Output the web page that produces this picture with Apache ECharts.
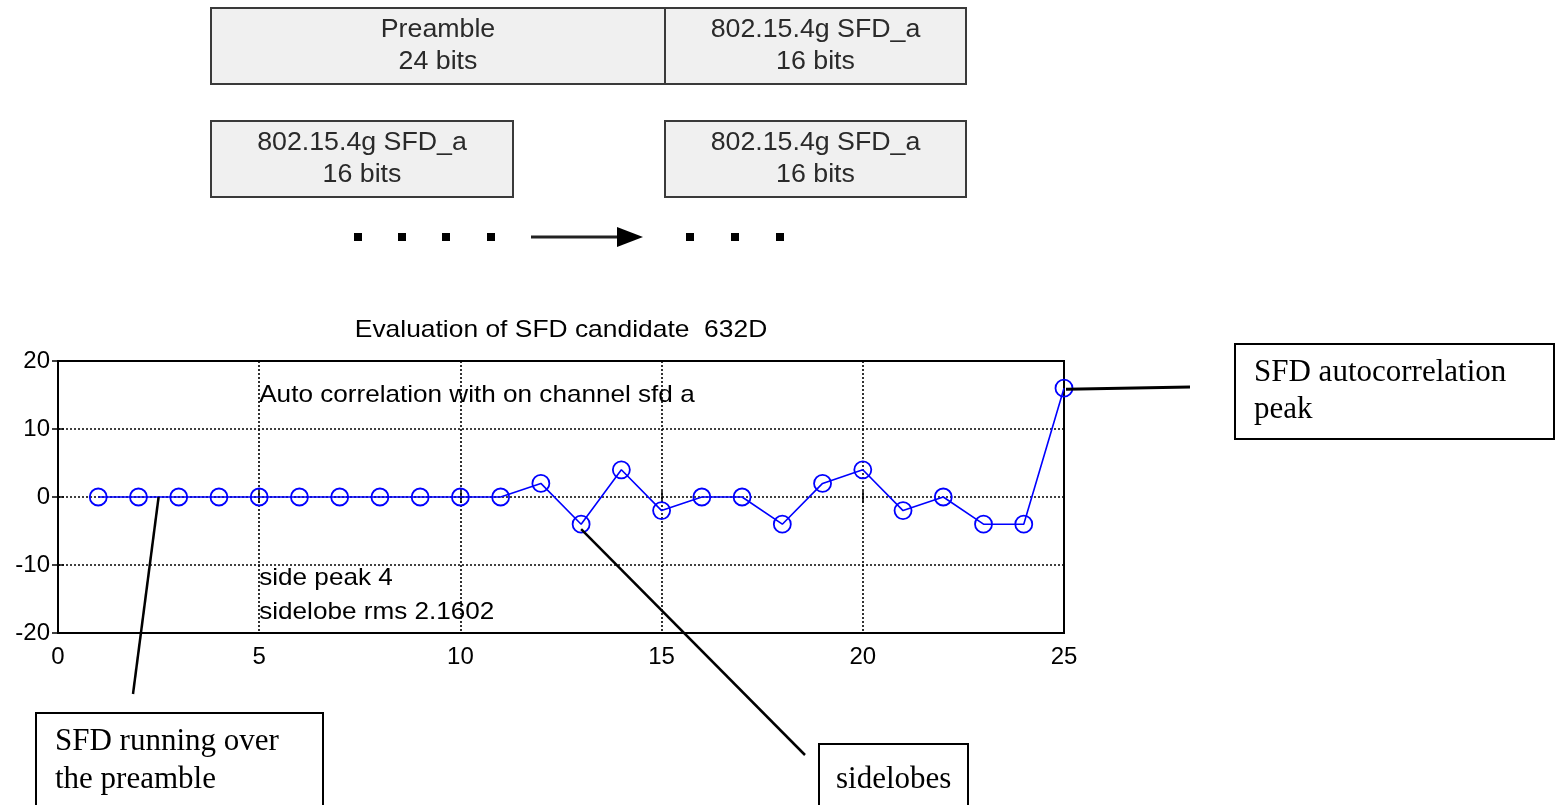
<!DOCTYPE html>
<html><head><meta charset="utf-8">
<script src="https://cdn.jsdelivr.net/npm/echarts@6/dist/echarts.min.js"></script>
<style>html,body{margin:0;padding:0;background:#fff}#c{width:1556px;height:805px}</style>
</head><body><div id="c"></div>
<script>
// ---- data ----
const lags = [1,2,3,4,5,6,7,8,9,10,11,12,13,14,15,16,17,18,19,20,21,22,23,24,25];
const corr = [0,0,0,0,0,0,0,0,0,0,0,2,-4,4,-2,0,0,-4,2,4,-2,0,-4,-4,16];
const xTickValues = [0,5,10,15,20,25];
const yTickValues = [-20,-10,0,10,20];
const titleText = 'Evaluation of SFD candidate  632D';
const plotNotes = [
  {text:'Auto correlation with on channel sfd a', x:5, y:15},
  {text:'side peak 4', x:5, y:-12},
  {text:'sidelobe rms 2.1602', x:5, y:-17}
];
const frameRow1 = [{label:'Preamble', bits:'24 bits'}, {label:'802.15.4g SFD_a', bits:'16 bits'}];
const frameRow2 = [{label:'802.15.4g SFD_a', bits:'16 bits'}, {label:'802.15.4g SFD_a', bits:'16 bits'}];
const callouts = [
  {lines:['SFD autocorrelation','peak'], anchor:[25,16]},
  {lines:['SFD running over','the preamble'], anchor:[2.5,0]},
  {lines:['sidelobes'], anchor:[13,-4]}
];

const SANS = 'Liberation Sans, Arial, sans-serif';
const SERIF = 'Liberation Serif, Times New Roman, serif';
const chart = echarts.init(document.getElementById('c'), null, {renderer:'canvas'});

const xMin = xTickValues[0], xMax = xTickValues[xTickValues.length-1], xInt = xTickValues[1]-xTickValues[0];
const yMin = yTickValues[0], yMax = yTickValues[yTickValues.length-1], yInt = yTickValues[1]-yTickValues[0];

const baseAxis = {
  type:'value', axisLine:{show:false},
  axisTick:{show:true, inside:true, length:6, lineStyle:{color:'#000', width:1.5}},
  splitLine:{show:false}
};

chart.setOption({
  animation:false,
  backgroundColor:'#fff',
  grid:{left:58, top:361, width:1006, height:272, show:true, borderColor:'#000', borderWidth:2, backgroundColor:'transparent'},
  xAxis:[
    Object.assign({}, baseAxis, {min:xMin, max:xMax, interval:xInt, position:'bottom',
      axisLabel:{color:'#000', fontSize:24, fontFamily:SANS, margin:12},
      splitLine:{show:true, lineStyle:{color:'#000', type:[2,2], width:1.6}}}),
    Object.assign({}, baseAxis, {min:xMin, max:xMax, interval:xInt, position:'top', axisLabel:{show:false}})
  ],
  yAxis:[
    Object.assign({}, baseAxis, {min:yMin, max:yMax, interval:yInt, position:'left',
      axisLabel:{color:'#000', fontSize:24, fontFamily:SANS, margin:8},
      splitLine:{show:true, lineStyle:{color:'#000', type:[2,2], width:1.6}}}),
    Object.assign({}, baseAxis, {min:yMin, max:yMax, interval:yInt, position:'right', axisLabel:{show:false}})
  ],
  series:[{
    type:'line', xAxisIndex:0, yAxisIndex:0,
    data: lags.map((x,i)=>[x, corr[i]]),
    symbol:'circle', symbolSize:17,
    lineStyle:{color:'#0000ff', width:1.6},
    itemStyle:{color:'rgba(0,0,0,0)', borderColor:'#0000ff', borderWidth:1.8},
    emphasis:{disabled:true}, silent:true, z:3
  }]
});

function px(p){ return chart.convertToPixel({xAxisIndex:0, yAxisIndex:0}, p); }

const g = [];
// title
g.push({type:'text', x:561, y:330, scaleX:1.1, style:{text:titleText, font:'24px '+SANS, fill:'#000', align:'center', verticalAlign:'middle'}});
// in-plot notes
plotNotes.forEach(n=>{
  const p = px([n.x, n.y]);
  g.push({type:'text', x:p[0], y:p[1], z:10, scaleX:1.088, style:{text:n.text, font:'24px '+SANS, fill:'#000', align:'left', verticalAlign:'middle'}});
});

// frame diagram
function frameBox(x,y,w,h,item){
  g.push({type:'rect', shape:{x:x,y:y,width:w,height:h}, style:{fill:'#f0f0f0', stroke:'#3a3a3a', lineWidth:2}});
  g.push({type:'text', x:x+w/2, y:y+22, scaleX:1.07, style:{text:item.label, font:'25px '+SANS, fill:'#2a2a2a', align:'center', verticalAlign:'middle'}});
  g.push({type:'text', x:x+w/2, y:y+54, scaleX:1.07, style:{text:item.bits, font:'25px '+SANS, fill:'#2a2a2a', align:'center', verticalAlign:'middle'}});
}
frameBox(211, 8, 454, 76, frameRow1[0]);
frameBox(665, 8, 301, 76, frameRow1[1]);
frameBox(211, 121, 302, 76, frameRow2[0]);
frameBox(665, 121, 301, 76, frameRow2[1]);
// dots and arrow
[358, 402, 446, 491, 690, 735, 780].forEach(x=>{
  g.push({type:'rect', shape:{x:x-4, y:233, width:8, height:8}, style:{fill:'#000'}});
});
g.push({type:'line', shape:{x1:531, y1:237, x2:622, y2:237}, style:{stroke:'#222', lineWidth:3}});
g.push({type:'polygon', shape:{points:[[617,227],[643,237],[617,247]]}, style:{fill:'#000'}});

// callouts
const SF = '31px '+SERIF;
const c0 = px(callouts[0].anchor);
g.push({type:'line', z:20, shape:{x1:c0[0]+2, y1:c0[1]+1, x2:1190, y2:387}, style:{stroke:'#000', lineWidth:3}});
g.push({type:'rect', shape:{x:1235, y:344, width:319, height:95}, style:{fill:'#fff', stroke:'#000', lineWidth:2}});
g.push({type:'text', x:1254, y:373, style:{text:callouts[0].lines[0], font:SF, fill:'#000', verticalAlign:'middle'}});
g.push({type:'text', x:1254, y:410, style:{text:callouts[0].lines[1], font:SF, fill:'#000', verticalAlign:'middle'}});

const c1 = px(callouts[1].anchor);
g.push({type:'line', z:20, shape:{x1:c1[0], y1:c1[1], x2:133, y2:694}, style:{stroke:'#000', lineWidth:2.5}});
g.push({type:'rect', shape:{x:36, y:713, width:287, height:110}, style:{fill:'#fff', stroke:'#000', lineWidth:2}});
g.push({type:'text', x:55, y:742, style:{text:callouts[1].lines[0], font:SF, fill:'#000', verticalAlign:'middle'}});
g.push({type:'text', x:55, y:780, style:{text:callouts[1].lines[1], font:SF, fill:'#000', verticalAlign:'middle'}});

const c2 = px(callouts[2].anchor);
g.push({type:'line', z:20, shape:{x1:c2[0], y1:c2[1]+5, x2:805, y2:755}, style:{stroke:'#000', lineWidth:2.5}});
g.push({type:'rect', shape:{x:819, y:744, width:149, height:80}, style:{fill:'#fff', stroke:'#000', lineWidth:2}});
g.push({type:'text', x:836, y:780, style:{text:callouts[2].lines[0], font:SF, fill:'#000', verticalAlign:'middle'}});

chart.setOption({graphic:{elements:g}});
</script>
</body></html>
